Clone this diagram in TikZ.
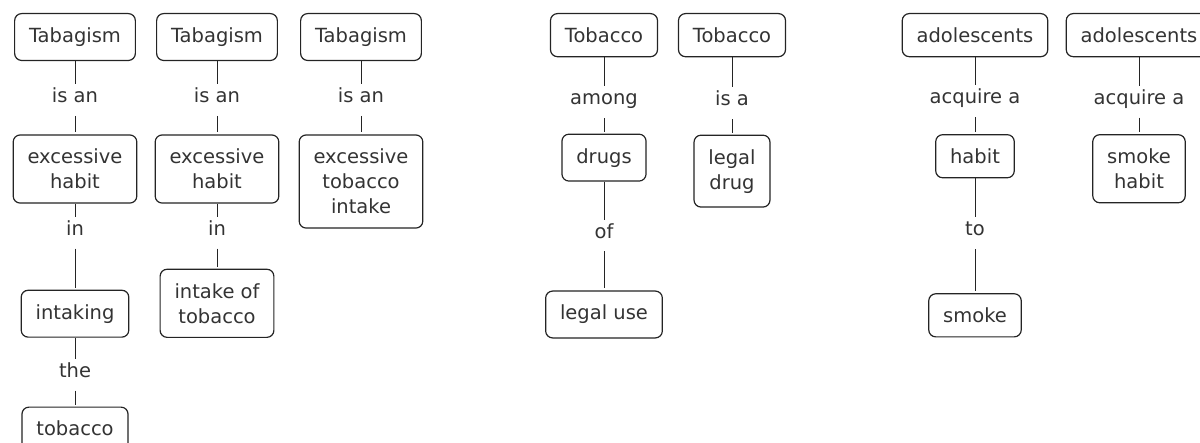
\documentclass[tikz,border=0pt]{standalone}
\usepackage{fontspec}
\setmainfont{DejaVu Sans}
\usepackage{tikz}
\usetikzlibrary{arrows,%
                shapes,positioning}
\usepackage{color}
\definecolor{inkgray}{rgb}{0.2,0.2,0.2}
\definecolor{framegray}{rgb}{0.14,0.14,0.14}

\begin{document}
\begin{tikzpicture}[x = 0.5pt, y = -0.5pt]
  \useasboundingbox (0,0) rectangle (1200,443);
  \tikzset{ConceptStyle/.style = {shape           = rectangle,
                                  draw            = framegray,
                                  line width      = 0.6pt,
                                  rounded corners = 3.5pt,
                                  text            = inkgray,
                                  align           = center,
                                  font            = \fontsize{9.75}{12.5}\selectfont,
                                  inner xsep      = 7.2pt,
                                  inner ysep      = 7pt}}
  \tikzset{PhraseStyle/.style  = {text            = inkgray,
                                  font            = \fontsize{9.75}{12.5}\selectfont,
                                  inner sep       = 0pt,
                                  text height     = 7.4pt,
                                  text depth      = 2.3pt,
                                  minimum height  = 13pt}}
  \tikzset{LinkStyle/.style    = {draw            = framegray,
                                  line width      = 0.5pt,
                                  shorten <=        2.5pt,
                                  shorten >=        1pt}}
     % Tabagism, first column
     \node[ConceptStyle,anchor=north] (T1) at (75,13) {Tabagism};
     \node[PhraseStyle,below=11.5pt of T1](T1is){is an};
     \node[ConceptStyle,below=11.75pt of T1is](EH1){excessive\\habit};
     \node[PhraseStyle,below=6.6pt of EH1](EH1in){in};
     \node[ConceptStyle,below=23pt of EH1in](IK){intaking};
     \node[PhraseStyle,below=10.5pt of IK](IKthe){the};
     \node[ConceptStyle,below=10.5pt of IKthe](TB){tobacco};
     % Tabagism, second column
     \node[ConceptStyle,anchor=north] (T2) at (217,13) {Tabagism};
     \node[PhraseStyle,below=11.5pt of T2](T2is){is an};
     \node[ConceptStyle,below=11.75pt of T2is](EH2){excessive\\habit};
     \node[PhraseStyle,below=6.6pt of EH2](EH2in){in};
     \node[ConceptStyle,below=12.5pt of EH2in](IT){intake of\\tobacco};
     % Tabagism, third column
     \node[ConceptStyle,anchor=north] (T3) at (361,13) {Tabagism};
     \node[PhraseStyle,below=11.5pt of T3](T3is){is an};
     \node[ConceptStyle,below=11.75pt of T3is](ETI){excessive\\tobacco\\intake};
     % Tobacco
     \node[ConceptStyle,anchor=north] (TO1) at (604,13) {Tobacco};
     \node[PhraseStyle,below=14.5pt of TO1](TO1among){among};
     \node[ConceptStyle,below=10.25pt of TO1among](DR){drugs};
     \node[PhraseStyle,below=19pt of DR](DRof){of};
     \node[ConceptStyle,below=22pt of DRof](LU){legal use};
     \node[ConceptStyle,anchor=north] (TO2) at (732,13) {Tobacco};
     \node[PhraseStyle,below=15pt of TO2](TO2is){is a};
     \node[ConceptStyle,below=10.25pt of TO2is](LD){legal\\drug};
     % adolescents
     \node[ConceptStyle,anchor=north] (AD1) at (975,13) {adolescents};
     \node[PhraseStyle,below=14pt of AD1](AD1acq){acquire a};
     \node[ConceptStyle,below=11pt of AD1acq](HB){habit};
     \node[PhraseStyle,below=19.5pt of HB](HBto){to};
     \node[ConceptStyle,below=24.5pt of HBto](SM){smoke};
     \node[ConceptStyle,anchor=north] (AD2) at (1139,13) {adolescents};
     \node[PhraseStyle,below=14.25pt of AD2](AD2acq){acquire a};
     \node[ConceptStyle,below=10.75pt of AD2acq](SH){smoke\\habit};

     \draw[LinkStyle](T1) -- (T1is) -- (EH1);
     \draw[LinkStyle](EH1) -- (EH1in) -- (IK);
     \draw[LinkStyle](IK) -- (IKthe) -- (TB);
     \draw[LinkStyle](T2) -- (T2is) -- (EH2);
     \draw[LinkStyle](EH2) -- (EH2in) -- (IT);
     \draw[LinkStyle](T3) -- (T3is) -- (ETI);
     \draw[LinkStyle](TO1) -- (TO1among) -- (DR);
     \draw[LinkStyle](DR) -- (DRof) -- (LU);
     \draw[LinkStyle](TO2) -- (TO2is) -- (LD);
     \draw[LinkStyle](AD1) -- (AD1acq) -- (HB);
     \draw[LinkStyle](HB) -- (HBto) -- (SM);
     \draw[LinkStyle](AD2) -- (AD2acq) -- (SH);
\end{tikzpicture}
\end{document}
